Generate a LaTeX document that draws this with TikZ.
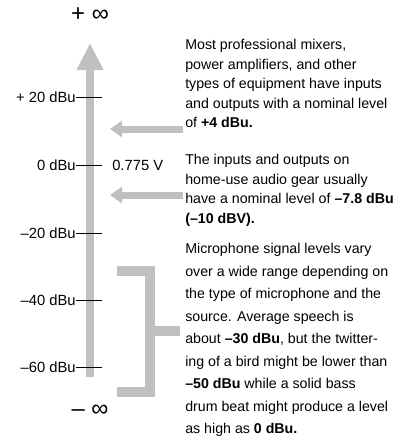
\documentclass[tikz,border=0pt]{standalone}
\usepackage{fontspec}
\setmainfont{Liberation Sans}
\usetikzlibrary{arrows.meta}
\definecolor{bargray}{RGB}{192,192,192}
\begin{document}
\begin{tikzpicture}[
  x=0.025cm, y=-0.025cm,
  every node/.style={inner sep=0pt, font=\fontsize{10.5}{13.9}\selectfont},
  note/.style={anchor=north west, align=left, font=\fontsize{10.1}{13.9}\selectfont},
  scalelabel/.style={anchor=east},
  infinity/.style={font=\fontsize{17}{17}\selectfont},
  tick/.style={draw=black, line width=0.6pt},
  bar/.style={draw=bargray, line width=0.175cm},
  pointer/.style={bar, -{Triangle[length=0.3cm, width=0.4cm]}},
  mainarrow/.style={bar, -{Triangle[length=0.675cm, width=0.625cm]}}
]
\useasboundingbox (0,0) rectangle (399,441);
\node[infinity] (pinf) at (90,15) {+ ∞};
\node[infinity] (minf) at (90,411) {– ∞};
\coordinate (abot) at (90,377);
\coordinate (atop) at (90,43);
\draw[mainarrow] (abot) -- (atop);
\foreach \y/\t/\n in {97/+ 20 dBu/p20, 165/0 dBu/z0, 233/–20 dBu/m20, 300/–40 dBu/m40, 367/–60 dBu/m60} {
  \node[scalelabel] (\n) at (76,\y) {\t};
  \coordinate (\n-t) at (102,\y);
  \draw[tick] (\n.east) -- (\n-t);
}
\node[anchor=west] (volt) at (112,165) {0.775 V};
\node[note] (pro) at (185,39) {Most professional mixers,\\power amplifiers, and other\\types of equipment have inputs\\and outputs with a nominal level\\of \textbf{+4 dBu.}};
\node[note] (home) at (185,154) {The inputs and outputs on\\home-use audio gear usually\\have a nominal level of \textbf{–7.8 dBu}\\\textbf{(–10 dBV).}};
\node[note, font=\fontsize{10.1}{16}\selectfont] (mic) at (185,243) {Microphone signal levels vary\\over a wide range depending on\\the type of microphone and the\\source. Average speech is\\about \textbf{–30 dBu}, but the twitter-\\ing of a bird might be lower than\\\textbf{–50 dBu} while a solid bass\\drum beat might produce a level\\as high as \textbf{0 dBu.}};
\coordinate (pro-a) at (183,129);
\coordinate (pro-b) at (110,129);
\coordinate (home-a) at (183,195);
\coordinate (home-b) at (110,195);
\draw[pointer] (pro-a) -- (pro-b);
\draw[pointer] (home-a) -- (home-b);
\coordinate (br1) at (117,271);
\coordinate (br2) at (150,271);
\coordinate (br3) at (150,392);
\coordinate (br4) at (117,392);
\coordinate (brm) at (150,331);
\coordinate (brt) at (180,331);
\draw[bar, line width=0.25cm] (br1) -- (br2) -- (br3) -- (br4);
\draw[bar, line width=0.27cm] (brm) -- (brt);
\end{tikzpicture}
\end{document}
